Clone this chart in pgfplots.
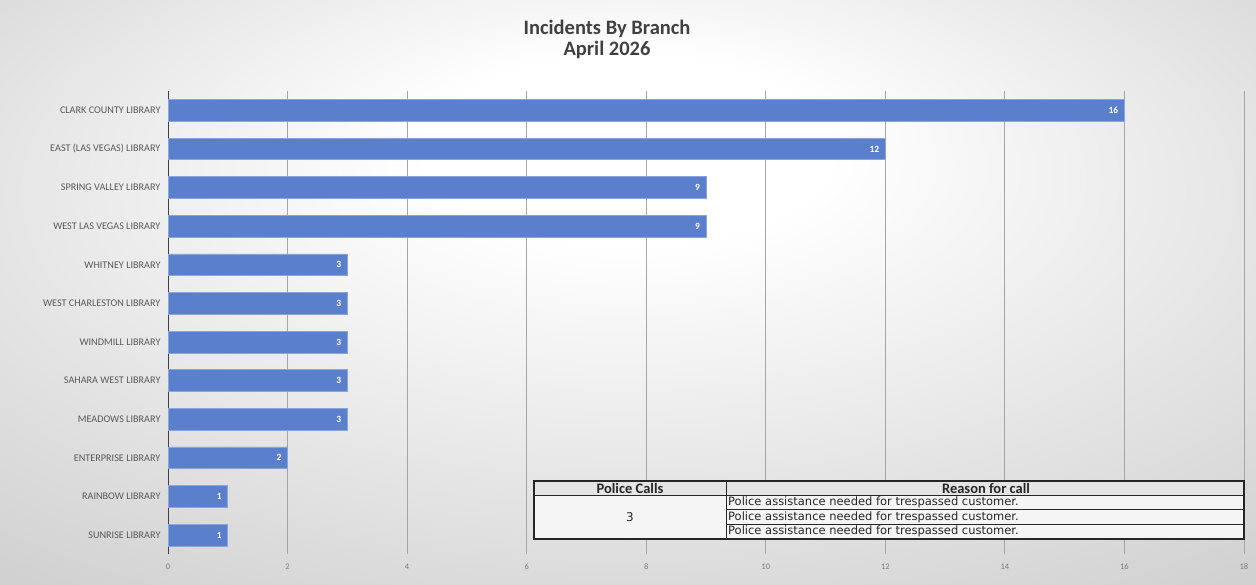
\documentclass[border=0pt]{standalone}
\usepackage{pgfplots}
\pgfplotsset{compat=1.18}
\usepackage{fontspec}
\setmainfont{Carlito}
\newfontfamily\tabfont{DejaVu Sans}

\definecolor{barblue}{RGB}{90,127,204}
\definecolor{titlegray}{RGB}{64,64,64}
\definecolor{labgray}{RGB}{89,89,89}
\definecolor{gridgray}{RGB}{165,165,165}

\pgfdeclareradialshading{bgshade}{\pgfpoint{0bp}{14bp}}{%
  color(0bp)=(white); color(8bp)=(white); color(45bp)=(black!22); color(60bp)=(black!25)}

\begin{document}
\begin{tikzpicture}[x=1pt,y=1pt]
\useasboundingbox (0,0) rectangle (1256,-584);
\shade[shading=bgshade] (0,0) rectangle (1256,-584);

\node[font=\bfseries\fontsize{20.5}{21.5}\selectfont, text=titlegray, align=center]
  at (607,-39.5) {Incidents By Branch\\April 2026};

\begin{axis}[
  at={(168pt,-554.3pt)}, anchor=south west,
  scale only axis, width=1076pt, height=463.3pt,
  xbar, bar width=21.7pt, bar shift=0pt,
  xmin=0, xmax=18, ymin=-0.5, ymax=11.5,
  xtick={0,2,...,18},
  ytick={0,...,11},
  yticklabels={SUNRISE LIBRARY, RAINBOW LIBRARY, ENTERPRISE LIBRARY, MEADOWS LIBRARY,
    SAHARA WEST LIBRARY, WINDMILL LIBRARY, WEST CHARLESTON LIBRARY, WHITNEY LIBRARY,
    WEST LAS VEGAS LIBRARY, SPRING VALLEY LIBRARY, EAST (LAS VEGAS) LIBRARY, CLARK COUNTY LIBRARY},
  major tick length=0pt,
  axis x line*=bottom, axis y line*=left,
  x axis line style={draw=none},
  y axis line style={draw=black!75, line width=0.8pt},
  xmajorgrids, grid style={draw=gridgray, line width=0.8pt},
  yticklabel style={font=\fontsize{10.2}{12}\selectfont, text=labgray, xshift=-4pt},
  xticklabel style={font=\fontsize{8.5}{10}\selectfont, text=labgray!80, yshift=-6pt},
  /pgf/number format/assume math mode=true,
  nodes near coords,
  every node near coord/.append style={anchor=east, text=white, font=\bfseries\fontsize{9.5}{10}\selectfont, xshift=-2.5pt},
]
\addplot[fill=barblue, draw=barblue!70!white, line width=0.6pt] coordinates {
  (1,0) (1,1) (2,2) (3,3) (3,4) (3,5) (3,6) (3,7) (9,8) (9,9) (12,10) (16,11)
};
\end{axis}

% Police calls table
\fill[black!10] (534,-481) rectangle (1244,-495);
\fill[black!4] (534,-495) rectangle (1244,-539);
\draw[black!85, line width=1.1pt] (534,-481) rectangle (1244,-539);
\draw[black!85, line width=0.8pt] (534,-495) -- (1244,-495);
\draw[black!85, line width=0.8pt] (726,-481) -- (726,-539);
\draw[black!85, line width=0.7pt] (726,-509.5) -- (1244,-509.5);
\draw[black!85, line width=0.7pt] (726,-524) -- (1244,-524);
\node[font=\bfseries\fontsize{14.5}{15}\selectfont, text=black!85] at (630,-488.3) {Police Calls};
\node[font=\bfseries\fontsize{14.5}{15}\selectfont, text=black!85] at (986,-488.3) {Reason for call};
\node[font=\tabfont\fontsize{12}{13}\selectfont, text=black!85] at (630,-517) {3};
\foreach \yy in {-502.5,-517,-531.7}
  \node[font=\tabfont\fontsize{11.5}{12}\selectfont, text=black!85, anchor=west, inner sep=0pt] at (728,\yy)
    {Police assistance needed for trespassed customer.};
\end{tikzpicture}
\end{document}
